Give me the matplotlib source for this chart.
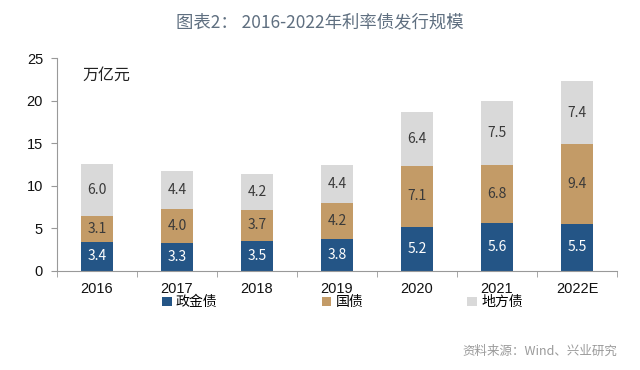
import numpy as np
import matplotlib
matplotlib.use("Agg")
import matplotlib.pyplot as plt

plt.rcParams['font.family'] = ['Noto Sans CJK SC', 'DejaVu Sans']

# data (万亿元)
years = ["2016", "2017", "2018", "2019", "2020", "2021", "2022E"]
zhengjin = [3.4, 3.3, 3.5, 3.8, 5.2, 5.6, 5.5]
guozhai = [3.1, 4.0, 3.7, 4.2, 7.1, 6.8, 9.4]
difang = [6.0, 4.4, 4.2, 4.4, 6.4, 7.5, 7.4]
series_names = ["政金债", "国债", "地方债"]

colors = ["#245586", "#c39b67", "#d9d9d9"]
text_colors = ["white", "#3a3a3a", "#3a3a3a"]

fig = plt.figure(figsize=(6.4, 3.7), dpi=100)
ax = fig.add_axes([0.089, 0.268, 0.875, 0.575])

x = np.arange(len(years))
bottom = np.zeros(len(years))
for vals, name, c, tc in zip([zhengjin, guozhai, difang], series_names, colors, text_colors):
    vals = np.array(vals)
    ax.bar(x, vals, width=0.4, bottom=bottom, color=c, label=name)
    for xi, b, v in zip(x, bottom, vals):
        ax.text(xi, b + v / 2, f"{v:.1f}", ha="center", va="center",
                color=tc, fontsize=10)
    bottom = bottom + vals

ax.set_xlim(-0.5, len(years) - 0.5)
ax.set_ylim(0, 25)
ax.set_yticks([0, 5, 10, 15, 20, 25])
ax.set_xticks(x)
ax.set_xticklabels(years)
ax.set_xticks(np.arange(len(years) + 1) - 0.5, minor=True)
ax.tick_params(axis="x", which="major", length=0, labelsize=10.5, pad=8)
ax.tick_params(axis="x", which="minor", length=4, color="#999999")
ax.tick_params(axis="y", length=4, color="#999999", labelsize=10.5, pad=6)
for lbl in ax.get_xticklabels() + ax.get_yticklabels():
    lbl.set_family("Liberation Sans")
    lbl.set_color("#111111")
for s in ["top", "right"]:
    ax.spines[s].set_visible(False)
for s in ["left", "bottom"]:
    ax.spines[s].set_color("#999999")

ax.text(0.045, 0.96, "万亿元", transform=ax.transAxes, fontsize=11.5,
        va="top", ha="left", color="#222222")

fig.text(0.5, 0.94, "图表2： 2016-2022年利率债发行规模", ha="center", va="center",
         fontsize=12.5, color="#5f6f80")

fig.legend(loc="center", bbox_to_anchor=(0.535, 0.183), ncol=3, frameon=False,
           fontsize=10, handlelength=0.7, handleheight=0.7, handletextpad=0.3,
           columnspacing=7.5)

fig.text(0.965, 0.05, "资料来源：Wind、兴业研究", ha="right", va="center",
         fontsize=9, color="#9a9a9a")

fig.savefig("out.png", dpi=100)
